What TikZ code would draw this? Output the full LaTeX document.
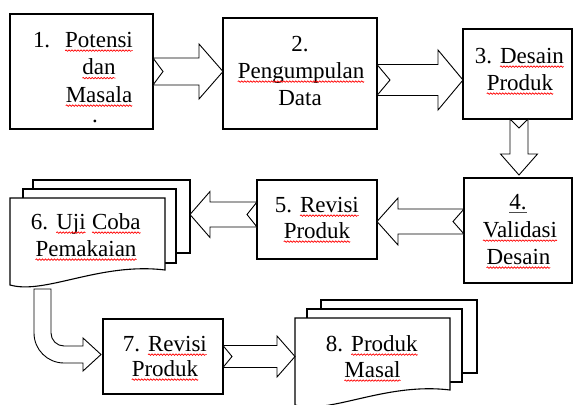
\documentclass[tikz,border=0pt]{standalone}
\usepackage{fontspec}
\setmainfont{Liberation Serif}
\newfontfamily\tnr{Liberation Serif}
\usetikzlibrary{calc,decorations.pathmorphing}
\tikzset{
  box/.style={draw, line width=1.1pt, fill=white, rectangle, inner sep=0pt, outer sep=0pt},
  page/.style={draw, line width=1.1pt, fill=white, line join=miter},
  hidden/.style={rectangle, inner sep=0pt, outer sep=0pt, draw=none},
  lbl/.style={inner sep=0pt, outer sep=0pt, anchor=base, font=\tnr\fontsize{23}{27}\selectfont},
  blockarrow/.style={draw, line width=0.9pt, fill=white, line join=miter},
  sqline/.style={draw=red, line width=0.7pt, decorate, decoration={snake, amplitude=0.7pt, segment length=3pt}},
  sqdark/.style={draw=black!70, line width=0.7pt},
}
\newcommand\sqw[1]{\tikz[baseline=(sqn.base)]{\node[inner sep=0pt,outer sep=0pt,anchor=base,draw=none,fill=none] (sqn) {#1};\draw[sqline] ([yshift=-3.6pt]sqn.base west) -- ([yshift=-3.6pt]sqn.base east);}}
\newcommand\sqd[1]{\tikz[baseline=(sqn.base)]{\node[inner sep=0pt,outer sep=0pt,anchor=base,draw=none,fill=none] (sqn) {#1};\draw[sqdark] ([yshift=-3.2pt]sqn.base west) -- ([yshift=-3.2pt]sqn.base east);}}
% block arrow: #1 tail, #2 tip, #3 shaft half width, #4 head half width, #5 head length, #6 notch depth
\newcommand\barrow[6]{%
  \coordinate (bS) at ($(#2)!#5!(#1)$);
  \draw[blockarrow] ($(#1)!#3!90:(#2)$) -- ($(bS)!#3!90:(#2)$) -- ($(bS)!#4!90:(#2)$) -- (#2)
    -- ($(bS)!#4!-90:(#2)$) -- ($(bS)!#3!-90:(#2)$) -- ($(#1)!#3!-90:(#2)$) -- ($(#1)!#6!(#2)$) -- cycle;}
\begin{document}
\begin{tikzpicture}[x=1pt,y=-1pt]
\useasboundingbox (0,0) rectangle (574,405);
% ---------- boxes ----------
\node[box, minimum width=143pt, minimum height=115pt] (b1) at (81.5,71.5) {};
\node[box, minimum width=154pt, minimum height=111pt] (b2) at (300,73.5) {};
\node[box, minimum width=109pt, minimum height=90pt] (b3) at (517.5,74) {};
\node[box, minimum width=108pt, minimum height=105pt] (b4) at (518,230.5) {};
\node[box, minimum width=120pt, minimum height=79pt] (b5) at (317,219.5) {};
\node[box, minimum width=120pt, minimum height=75pt] (b7) at (163,356.5) {};
% ---------- multi-document 6 ----------
\node[box, minimum width=157pt, minimum height=73pt] (b6c) at (111.5,216.5) {};
\node[box, minimum width=153pt, minimum height=74pt] (b6b) at (99.5,226) {};
\node[hidden, minimum width=155pt, minimum height=72pt] (b6) at (87.5,234) {};
\draw[page] (b6.south east) -- (b6.north east) -- (b6.north west) -- ($(b6.south west)+(0,15)$)
  .. controls ($(b6.south west)+(35,25)$) and ($(b6.south west)+(90,-8)$) .. (b6.south east) -- cycle;
% ---------- multi-document 8 ----------
\node[box, minimum width=156pt, minimum height=73pt] (b8c) at (399,336.5) {};
\node[box, minimum width=155pt, minimum height=73pt] (b8b) at (384.5,345.5) {};
\node[hidden, minimum width=155pt, minimum height=72pt] (b8) at (372.5,354) {};
\draw[page] (b8.south east) -- (b8.north east) -- (b8.north west) -- ($(b8.south west)+(0,15)$)
  .. controls ($(b8.south west)+(35,25)$) and ($(b8.south west)+(90,-8)$) .. (b8.south east) -- cycle;
% ---------- arrows ----------
\coordinate (a12t) at (b1.east);
\coordinate (a12h) at (b2.west |- b1.east);
\barrow{a12t}{a12h}{13.5pt}{27.5pt}{24pt}{10pt}
\coordinate (a23t) at ($(b2.east)+(0,6.5)$);
\coordinate (a23h) at (b3.west |- a23t);
\barrow{a23t}{a23h}{15.5pt}{30pt}{25pt}{13pt}
\coordinate (a34t) at ($(b3.south)+(1.5,0)$);
\coordinate (a34h) at ($(b4.north)+(1,-3)$);
\barrow{a34t}{a34h}{9pt}{18.5pt}{21pt}{9pt}
\coordinate (a45t) at ($(b4.west)+(0,-9)$);
\coordinate (a45h) at (b5.east |- a45t);
\barrow{a45t}{a45h}{12.5pt}{23.5pt}{21pt}{11pt}
\coordinate (a56t) at ($(b5.west)+(0,-5)$);
\coordinate (a56h) at (b6c.east |- a56t);
\barrow{a56t}{a56h}{12.5pt}{23pt}{20pt}{10pt}
\coordinate (a78t) at (b7.east);
\coordinate (a78h) at (b8.west |- b7.east);
\barrow{a78t}{a78h}{11pt}{20.5pt}{18pt}{9pt}
% bent arrow 6 -> 7
\coordinate (a67t) at ($(b6.south west)+(32.5,19)$);
\coordinate (a67h) at ($(b7.west)+(-2,-2)$);
\begin{scope}[shift={(a67t)}]
\draw[blockarrow] (-8.5,0) -- (-8.5,44) .. controls (-8.5,60.6) and (4.9,74) .. (21.5,74) -- (40.5,74) -- (40.5,82)
  -- (a67h) -- (40.5,49) -- (40.5,57) -- (21.5,57) .. controls (14.3,57) and (8.5,51.2) .. (8.5,44) -- (8.5,0) -- cycle;
\end{scope}
% ---------- labels ----------
\node[lbl, anchor=base west] (t1n) at (33,47) {1.};
\node[lbl] (t1a) at (99,47) {\sqw{Potensi}};
\node[lbl] (t1b) at (99,74.5) {\sqw{dan}};
\node[lbl] (t1c) at (99,102) {\sqw{Masala}};
\node[lbl] (t1d) at (95,122) {.};
\node[lbl] (t2a) at (300,51) {2.};
\node[lbl] (t2b) at (301,78) {\sqw{Pengumpulan}};
\node[lbl] (t2c) at (300,105) {Data};
\node[lbl] (t3a) at (519.5,63) {3. \sqw{Desain}};
\node[lbl] (t3b) at (520,90) {\sqw{Produk}};
\node[lbl] (t4a) at (518,209) {\sqd{4.}};
\node[lbl] (t4b) at (520,237) {\sqw{Validasi}};
\node[lbl] (t4c) at (518.5,264) {\sqw{Desain}};
\node[lbl] (t5a) at (317,212) {5. \sqw{Revisi}};
\node[lbl] (t5b) at (317,238) {\sqw{Produk}};
\node[lbl] (t6a) at (86,229) {6. \sqw{Uji} \sqw{Coba}};
\node[lbl] (t6b) at (86,256) {\sqw{Pemakaian}};
\node[lbl] (t7a) at (165,351) {7. \sqw{Revisi}};
\node[lbl] (t7b) at (165,376) {\sqw{Produk}};
\node[lbl] (t8a) at (372,351) {8. \sqw{Produk}};
\node[lbl] (t8b) at (372.5,377) {\sqw{Masal}};
\end{tikzpicture}
\end{document}
